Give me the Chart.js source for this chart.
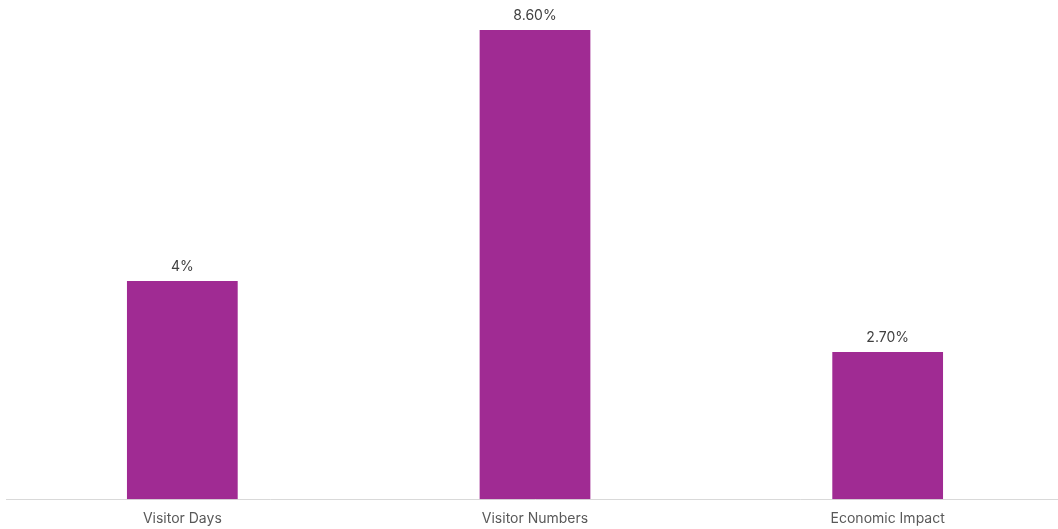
<!DOCTYPE html>
<html>
<head>
<meta charset="utf-8">
<script src="https://cdn.jsdelivr.net/npm/chart.js@4"></script>
<style>
  html, body { margin: 0; padding: 0; background: #fff; overflow: hidden; height: 529px; }
  #wrap { width: 1064px; height: 540px; }
</style>
</head>
<body>
<div id="wrap"><canvas id="chart"></canvas></div>
<script>
const categories = ['Visitor Days', 'Visitor Numbers', 'Economic Impact'];
const values = [4, 8.6, 2.7];
const valueLabels = ['4%', '8.60%', '2.70%'];

// draw the value text over each bar
const barLabels = {
    id: 'barLabels',
    afterDatasetsDraw(chart) {
        const ctx = chart.ctx;
        const meta = chart.getDatasetMeta(0);
        ctx.save();
        ctx.font = '14px Inter, "Liberation Sans", sans-serif';
        ctx.fillStyle = '#404040';
        ctx.textAlign = 'center';
        ctx.textBaseline = 'bottom';
        meta.data.forEach((bar, i) => {
            ctx.fillText(valueLabels[i], bar.x, bar.y - 7);
        });
        ctx.restore();
    }
};

const ctx = document.getElementById('chart').getContext('2d');
new Chart(ctx, {
    type: 'bar',
    data: {
        labels: categories,
        datasets: [{
            data: values,
            backgroundColor: '#A02B93',
            barPercentage: 1,
            categoryPercentage: 0.314
        }]
    },
    plugins: [barLabels],
    options: {
        responsive: true,
        maintainAspectRatio: false,
        animation: false,
        layout: { padding: { left: 6, right: 0, top: 0, bottom: 2 } },
        plugins: {
            legend: { display: false },
            tooltip: { enabled: false }
        },
        scales: {
            x: {
                grid: { display: false, drawTicks: false },
                border: { display: true, color: '#d9d9d9', width: 1 },
                ticks: {
                    color: '#595959',
                    padding: 11,
                    font: { family: 'Inter, "Liberation Sans", sans-serif', size: 14 }
                }
            },
            y: {
                display: false,
                min: 0,
                max: 9.15
            }
        }
    }
});
</script>
</body>
</html>
